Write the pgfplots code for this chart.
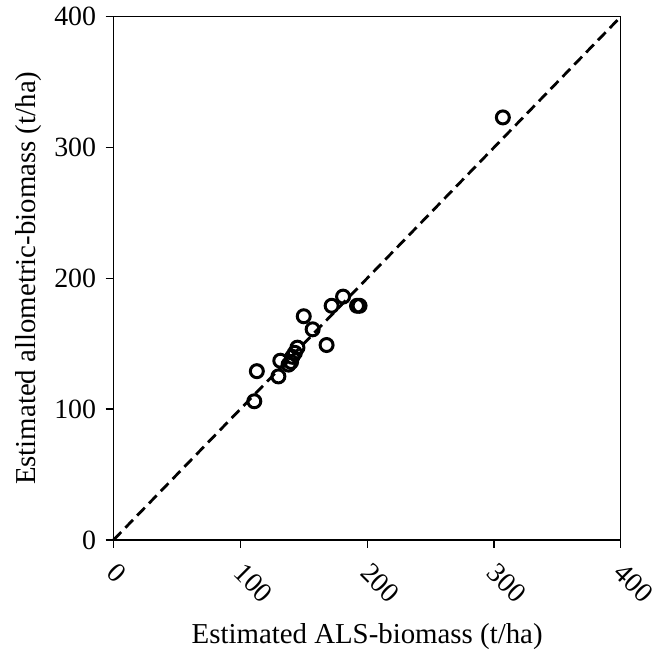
\documentclass[border={12bp 0bp 0bp 4bp}]{standalone}
\usepackage{fontspec}
\setmainfont{Liberation Serif}
\usepackage{pgfplots}
\pgfplotsset{compat=1.18}

\begin{document}
\begin{tikzpicture}
\begin{axis}[
  scale only axis,
  width=508bp, height=524bp,
  xmin=0, xmax=400, ymin=0, ymax=400,
  xtick={0,100,200,300,400},
  ytick={0,100,200,300,400},
  tick pos=left,
  tick align=outside,
  major tick length=8bp,
  tick style={black, line width=1.3bp},
  axis line style={black, line width=1.3bp},
  font=\fontsize{28}{32}\selectfont,
  /pgf/number format/assume math mode=true,
  xticklabel style={xshift=5bp, yshift=-9bp, rotate=-45, anchor=north west},
  yticklabel style={xshift=-6bp},
  xlabel={Estimated ALS-biomass (t/ha)},
  ylabel={Estimated allometric-biomass (t/ha)},
  label style={font=\fontsize{29}{33}\selectfont},
  xlabel style={yshift=-11bp},
  ylabel style={yshift=6bp},
  clip=false,
]
\addplot[black, line width=2.8bp, dash pattern=on 11bp off 6bp] coordinates {(0,0) (400,400)};
\addplot[only marks, mark=o, mark size=6.5bp, line width=3bp, black] coordinates {
  (111,106) (113,129) (130,125) (131.5,137) (138,134) (140,136) (141,140)
  (143,143) (145,147) (150,171) (157,161) (168,149) (172,179) (181,186)
  (192,179) (194,179) (307,323)
};
\end{axis}
\end{tikzpicture}
\end{document}
